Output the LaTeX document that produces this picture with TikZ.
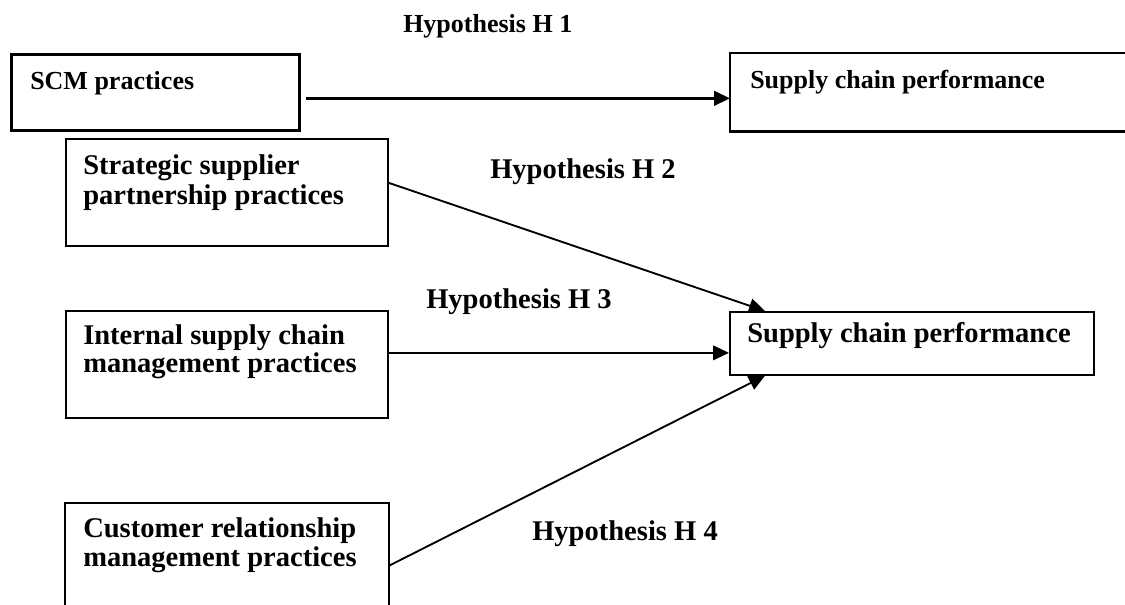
\documentclass[tikz,border=0pt]{standalone}
\usepackage{fontspec}
\setmainfont{Liberation Serif}
\usetikzlibrary{arrows.meta,calc}
\begin{document}
\begin{tikzpicture}[x=0.75pt,y=-0.75pt,
  topbox/.style={line width=2pt,inner sep=0,anchor=north west},
  box/.style={line width=1.3pt,inner sep=0,anchor=north west},
  bigtxt/.style={font=\bfseries\fontsize{19.5}{23}\selectfont,inner sep=0,anchor=base west},
  txt/.style={font=\bfseries\fontsize{21.4}{26}\selectfont,inner sep=0,anchor=base west},
  conn/.style={line width=1.4pt,-{Triangle[length=12pt,width=11pt]}}]
\useasboundingbox (0,0) rectangle (1125,605);

% top row
\node[topbox,draw,minimum width=216pt,minimum height=57pt] (s1) at (10,53) {};
\node[topbox,minimum width=294.75pt,minimum height=57pt] (t1) at (730,53) {};
\draw[line width=2pt] (t1.north east) -- (t1.north west) -- (t1.south west) -- (t1.south east);
\node[bigtxt] (s1t) at ([shift={(20,37)}]s1.north west) {SCM practices};
\node[bigtxt] (t1t) at ([shift={(20,36)}]t1.north west) {Supply chain performance};
\node[bigtxt] (h1) at (403,33) {Hypothesis H 1};
\draw[conn,line width=1.8pt] ([shift={(5,6)}]s1.east) -- ([shift={(0,6)}]t1.west);

% lower part
\node[box,draw,minimum width=241.5pt,minimum height=80.25pt] (s2) at (65,138) {};
\node[box,draw,minimum width=241.5pt,minimum height=80.25pt] (s3) at (65,310) {};
\node[box,minimum width=241.5pt,minimum height=77.25pt] (s4) at (65,503) {};
\draw[line width=1.3pt] (s4.south west) |- (s4.north east) -- (s4.south east);
\node[box,draw,minimum width=273pt,minimum height=47.25pt] (t2) at (729,311) {};

\node[txt] (s2a) at ([shift={(18,37)}]s2.north west) {Strategic supplier};
\node[txt] (s2b) at ([shift={(18,67)}]s2.north west) {partnership practices};
\node[txt] (s3a) at ([shift={(18,35)}]s3.north west) {Internal supply chain};
\node[txt] (s3b) at ([shift={(18,63)}]s3.north west) {management practices};
\node[txt] (s4a) at ([shift={(18,35)}]s4.north west) {Customer relationship};
\node[txt] (s4b) at ([shift={(18,64)}]s4.north west) {management practices};
\node[txt] (t2t) at ([shift={(18,32)}]t2.north west) {Supply chain performance};

\node[txt] (h2) at (490,179) {Hypothesis H 2};
\node[txt] (h3) at (426,309) {Hypothesis H 3};
\node[txt] (h4) at (532,541) {Hypothesis H 4};

\draw[conn] ([shift={(0,-9.5)}]s2.east) -- ([shift={(36,0)}]t2.north west);
\draw[conn] ([shift={(0,-11.5)}]s3.east) -- ([shift={(0,9.5)}]t2.west);
\draw[conn] ([shift={(0,10.5)}]s4.east) -- ([shift={(36,0)}]t2.south west);
\end{tikzpicture}
\end{document}
